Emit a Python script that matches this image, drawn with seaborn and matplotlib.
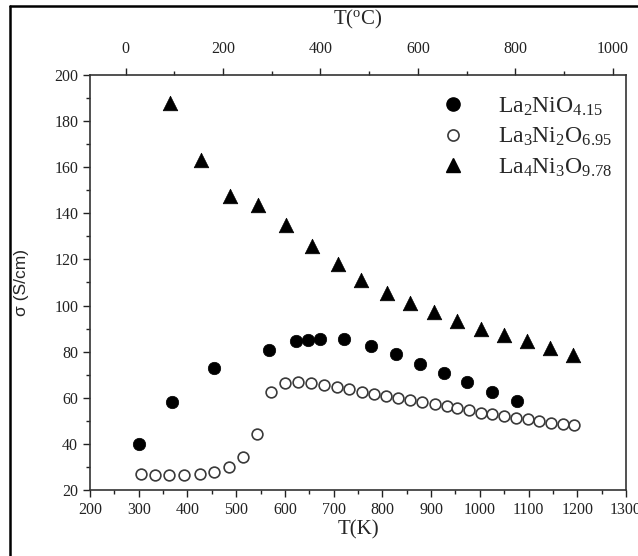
import numpy as np
import pandas as pd
import matplotlib
matplotlib.use("Agg")
import matplotlib.pyplot as plt
from matplotlib.ticker import MultipleLocator
from matplotlib.lines import Line2D
import seaborn as sns

# ---- data ----
k_214 = [301, 368, 455, 568, 623, 647, 673, 722, 777, 828, 877, 926, 973, 1025, 1076]
s_214 = [40.0, 58.2, 73.1, 80.9, 84.8, 85.2, 85.6, 85.3, 82.4, 78.8, 74.8, 70.7, 66.9, 62.7, 58.5]

k_327 = [304, 333, 363, 393, 426, 455, 485, 515, 543, 572, 600, 626, 654, 680, 706, 732,
         758, 782, 808, 833, 857, 881, 907, 932, 954, 978, 1002, 1026, 1050, 1074, 1098,
         1122, 1146, 1170, 1194]
s_327 = [26.9, 26.5, 26.3, 26.3, 26.9, 27.9, 30.0, 34.1, 44.2, 62.7, 66.4, 66.9, 66.4, 65.4,
         64.7, 63.8, 62.7, 61.7, 60.7, 60.0, 58.9, 58.0, 57.2, 56.4, 55.5, 54.5, 53.6, 52.9,
         52.2, 51.3, 50.6, 50.0, 49.2, 48.6, 48.0]

k_4310 = [364, 427, 487, 545, 602, 655, 708, 757, 809, 857, 906, 953, 1002, 1049, 1097, 1144, 1192]
s_4310 = [188, 163, 147.6, 143.6, 135, 125.7, 118, 111, 105.6, 101, 97, 93.4, 90, 87.2, 84.6, 81.4, 78.5]

labels = [r"$\mathrm{La_2NiO_{4.15}}$", r"$\mathrm{La_3Ni_2O_{6.95}}$", r"$\mathrm{La_4Ni_3O_{9.78}}$"]
x_ticks = list(range(200, 1301, 100))
y_ticks = list(range(20, 201, 20))
c_ticks = list(range(0, 1001, 200))

sns.set_style("ticks")
plt.rcParams["font.family"] = ["Liberation Serif", "DejaVu Serif"]
plt.rcParams["mathtext.fontset"] = "custom"
plt.rcParams["mathtext.rm"] = "Liberation Serif"
plt.rcParams["mathtext.it"] = "Liberation Serif:italic"

fig = plt.figure(figsize=(6.38, 5.56), dpi=100)
ax = fig.add_axes([90 / 638, 1 - 490 / 556, (626 - 90) / 638, (490 - 75) / 556])

d1 = pd.DataFrame({"K": k_214, "s": s_214})
d2 = pd.DataFrame({"K": k_327, "s": s_327})
d3 = pd.DataFrame({"K": k_4310, "s": s_4310})

sns.scatterplot(data=d1, x="K", y="s", ax=ax, marker="o", s=80, color="black",
                edgecolor="black", linewidth=0.5, zorder=3)
sns.scatterplot(data=d2, x="K", y="s", ax=ax, marker="o", s=60, facecolor="white",
                edgecolor="#3a3a3a", linewidth=1.2, zorder=3)
sns.scatterplot(data=d3, x="K", y="s", ax=ax, marker="^", s=110, color="black",
                edgecolor="black", linewidth=0.5, zorder=3)

ax.set_xlim(200, 1300)
ax.set_ylim(20, 200)
ax.set_xticks(x_ticks)
ax.set_yticks(y_ticks)
ax.xaxis.set_minor_locator(MultipleLocator(50))
ax.yaxis.set_minor_locator(MultipleLocator(10))
ax.tick_params(which="major", length=5, width=1, labelsize=11.5, direction="out", colors="#222222")
ax.tick_params(which="minor", length=3, width=1, direction="out", colors="#222222")
for sp in ax.spines.values():
    sp.set_visible(True)
    sp.set_linewidth(1.2)
    sp.set_color("#333333")

ax.set_xlabel("T(K)", fontsize=15, labelpad=2)
ax.set_ylabel("σ (S/cm)", fontsize=12.5, family=["Liberation Sans", "DejaVu Sans"], labelpad=18)

sec = ax.secondary_xaxis("top", functions=(lambda k: k - 273, lambda c: c + 273))
sec.set_xticks(c_ticks)
sec.xaxis.set_minor_locator(MultipleLocator(100))
sec.tick_params(which="major", length=5, width=1, labelsize=11.5, pad=8, colors="#222222")
sec.tick_params(which="minor", length=3, width=1, colors="#222222")
sec.spines["top"].set_visible(False)
sec.set_xlabel(r"T($\mathrm{^{o}}$C)", fontsize=15, labelpad=12)

handles = [
    Line2D([], [], marker="o", ls="none", color="black", markersize=9.5),
    Line2D([], [], marker="o", ls="none", markerfacecolor="white", markeredgecolor="#3a3a3a",
           markeredgewidth=1.2, markersize=8),
    Line2D([], [], marker="^", ls="none", color="black", markersize=10.5),
]
ax.legend(handles, labels, loc="upper right", frameon=False, fontsize=17,
          bbox_to_anchor=(1.0, 0.985), handletextpad=0.9, labelspacing=0.35,
          borderaxespad=0.2)

# outer frame of the original picture
fig.add_artist(Line2D([10 / 638, 10 / 638], [0, 1 - 6 / 556], transform=fig.transFigure,
                      color="black", lw=1.8))
fig.add_artist(Line2D([10 / 638, 1], [1 - 6 / 556, 1 - 6 / 556], transform=fig.transFigure,
                      color="black", lw=1.8))

fig.savefig("out.png", dpi=100)
